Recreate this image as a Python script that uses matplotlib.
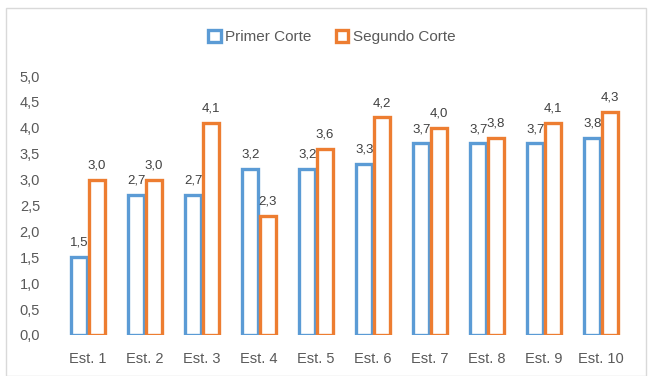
import numpy as np
import matplotlib.pyplot as plt
from matplotlib.patches import Rectangle

categorias = ["Est. 1", "Est. 2", "Est. 3", "Est. 4", "Est. 5",
              "Est. 6", "Est. 7", "Est. 8", "Est. 9", "Est. 10"]
primer_corte = [1.5, 2.7, 2.7, 3.2, 3.2, 3.3, 3.7, 3.7, 3.7, 3.8]
segundo_corte = [3.0, 3.0, 4.1, 2.3, 3.6, 4.2, 4.0, 3.8, 4.1, 4.3]
yticks = np.arange(0, 5.01, 0.5)

azul = "#5B9BD5"
naranja = "#ED7D31"
gris = "#595959"

plt.rcParams['font.family'] = ['Liberation Sans', 'DejaVu Sans']

fig = plt.figure(figsize=(6.48, 3.76), dpi=100)
fig.patches.append(Rectangle((6 / 648, 0.0), 640 / 648, 368 / 376,
                             transform=fig.transFigure, fill=False,
                             edgecolor="#D9D9D9", linewidth=1))
ax = fig.add_axes([59.5 / 648, 41 / 376, 570 / 648, 259 / 376])

x = np.arange(len(categorias))
w = 0.29
b1 = ax.bar(x - w / 2 - 0.01, primer_corte, w, facecolor="white",
            edgecolor=azul, linewidth=2.4, label="Primer Corte")
b2 = ax.bar(x + w / 2 + 0.01, segundo_corte, w, facecolor="white",
            edgecolor=naranja, linewidth=2.4, label="Segundo Corte")

for bars, vals in ((b1, primer_corte), (b2, segundo_corte)):
    for r, v in zip(bars, vals):
        ax.annotate(f"{v:.1f}".replace(".", ","),
                    (r.get_x() + r.get_width() / 2, v),
                    xytext=(0, 6), textcoords="offset points",
                    ha="center", va="bottom", fontsize=9.5, color="#404040")

ax.set_xlim(-0.5, len(categorias) - 0.5)
ax.set_ylim(0, 5.0)
ax.set_yticks(yticks)
ax.set_yticklabels([f"{t:.1f}".replace(".", ",") for t in yticks])
ax.set_xticks(x)
ax.set_xticklabels(categorias)
ax.tick_params(length=0, colors=gris, labelsize=10.5)
ax.tick_params(axis="x", pad=12)
ax.tick_params(axis="y", pad=14)
for s in ax.spines.values():
    s.set_visible(False)

fig.legend(handles=[b1, b2], loc="center", bbox_to_anchor=(332 / 648, 1 - 37 / 376),
           ncol=2, frameon=False, fontsize=11, labelcolor=gris,
           handlelength=0.8, handleheight=0.8, columnspacing=1.6, handletextpad=0.3)

fig.savefig("out.png", dpi=100)
